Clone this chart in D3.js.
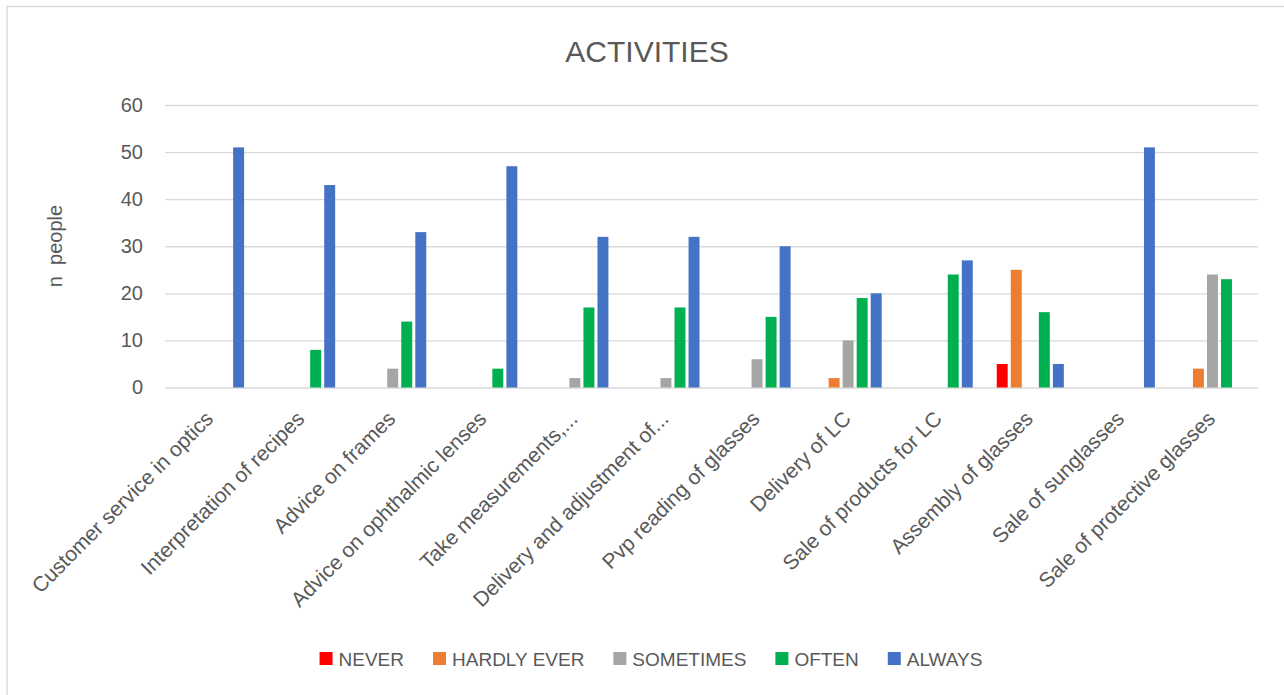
<!DOCTYPE html>
<html>
<head>
<meta charset="utf-8">
<script src="https://cdn.jsdelivr.net/npm/d3@7"></script>
<style>
  html, body { margin: 0; padding: 0; background: #ffffff; }
  svg { display: block; font-family: "Liberation Sans", Arial, sans-serif; }
</style>
</head>
<body>
<svg id="chart" width="1284" height="695"></svg>
<script>
// Activity categories (x axis)
const categories = [
  "Customer service in optics",
  "Interpretation of recipes",
  "Advice on frames",
  "Advice on ophthalmic lenses",
  "Take measurements,...",
  "Delivery and adjustment of...",
  "Pvp reading of glasses",
  "Delivery of LC",
  "Sale of products for LC",
  "Assembly of glasses",
  "Sale of sunglasses",
  "Sale of protective glasses"
];

// Frequency series
const seriesNames = ["NEVER", "HARDLY EVER", "SOMETIMES", "OFTEN", "ALWAYS"];
const seriesColors = ["#FF0000", "#ED7D31", "#A5A5A5", "#00B050", "#4472C4"];

// Number of people per category for each series
const never      = [0, 0, 0, 0, 0, 0, 0, 0, 0, 5, 0, 0];
const hardlyEver = [0, 0, 0, 0, 0, 0, 0, 2, 0, 25, 0, 4];
const sometimes  = [0, 0, 4, 0, 2, 2, 6, 10, 0, 0, 0, 24];
const often      = [0, 8, 14, 4, 17, 17, 15, 19, 24, 16, 0, 23];
const always     = [51, 43, 33, 47, 32, 32, 30, 20, 27, 5, 51, 0];

const yTicks = [0, 10, 20, 30, 40, 50, 60];

const seriesValues = [never, hardlyEver, sometimes, often, always];

const svg = d3.select("#chart");
const textColor = "#595959";
const gridColor = "#d9d9d9";

// Chart area frame
svg.append("rect")
  .attr("x", 7).attr("y", 6.5)
  .attr("width", 1300).attr("height", 720)
  .attr("fill", "#ffffff")
  .attr("stroke", gridColor)
  .attr("stroke-width", 1.4);

const plot = { left: 165, right: 1258, top: 105, bottom: 387.5 };

const x0 = d3.scaleBand()
  .domain(categories)
  .range([plot.left, plot.right])
  .padding(0);

const x1 = d3.scaleBand()
  .domain(seriesNames)
  .range([12, x0.bandwidth() - 12])
  .paddingInner(0.22)
  .paddingOuter(0);

const y = d3.scaleLinear()
  .domain([0, 60])
  .range([plot.bottom, plot.top]);

// Gridlines and value labels
const yAxis = d3.axisLeft(y)
  .tickValues(yTicks)
  .tickSize(-(plot.right - plot.left))
  .tickPadding(22)
  .tickFormat(d3.format("d"));

const yG = svg.append("g")
  .attr("transform", `translate(${plot.left},0)`)
  .call(yAxis);
yG.select(".domain").remove();
yG.selectAll(".tick line")
  .attr("stroke", gridColor)
  .attr("stroke-width", 1.3);
yG.selectAll(".tick text")
  .attr("fill", textColor)
  .style("font-size", "20px")
  .style("font-family", "'Liberation Sans', Arial, sans-serif");

// Bars
const groups = svg.append("g")
  .selectAll("g")
  .data(categories)
  .join("g")
  .attr("transform", d => `translate(${x0(d)},0)`);

groups.selectAll("rect")
  .data((cat, i) => seriesNames.map((s, k) => ({ s, k, v: seriesValues[k][i] })))
  .join("rect")
  .attr("x", d => x1(d.s))
  .attr("width", x1.bandwidth())
  .attr("y", d => y(d.v))
  .attr("height", d => y(0) - y(d.v))
  .attr("fill", d => seriesColors[d.k]);

// Category labels, rotated
svg.append("g")
  .selectAll("text")
  .data(categories)
  .join("text")
  .attr("transform", d => `translate(${x0(d) + x0.bandwidth() / 2 + 4},420) rotate(-45)`)
  .attr("text-anchor", "end")
  .attr("fill", textColor)
  .style("font-size", "21px")
  .text(d => d);

// Title
svg.append("text")
  .attr("x", 647).attr("y", 62)
  .attr("text-anchor", "middle")
  .attr("fill", textColor)
  .style("font-size", "30px")
  .text("ACTIVITIES");

// Y axis title
svg.append("text")
  .attr("transform", "translate(62,246) rotate(-90)")
  .attr("text-anchor", "middle")
  .attr("fill", textColor)
  .style("font-size", "20px")
  .style("white-space", "pre")
  .text("n  people");

// Legend
const legend = svg.append("g");
const items = legend.selectAll("g")
  .data(seriesNames)
  .join("g");
items.append("rect")
  .attr("width", 13).attr("height", 13)
  .attr("y", 652)
  .attr("fill", (d, i) => seriesColors[i]);
items.append("text")
  .attr("x", 19).attr("y", 666)
  .attr("fill", textColor)
  .style("font-size", "19px")
  .text(d => d);

let cursor = 0;
const offsets = [];
items.each(function () {
  const w = d3.select(this).select("text").node().getComputedTextLength();
  offsets.push(cursor);
  cursor += 19 + w + 29;
});
const total = cursor - 29;
const startX = 651 - total / 2;
items.attr("transform", (d, i) => `translate(${startX + offsets[i]},0)`);
</script>
</body>
</html>
